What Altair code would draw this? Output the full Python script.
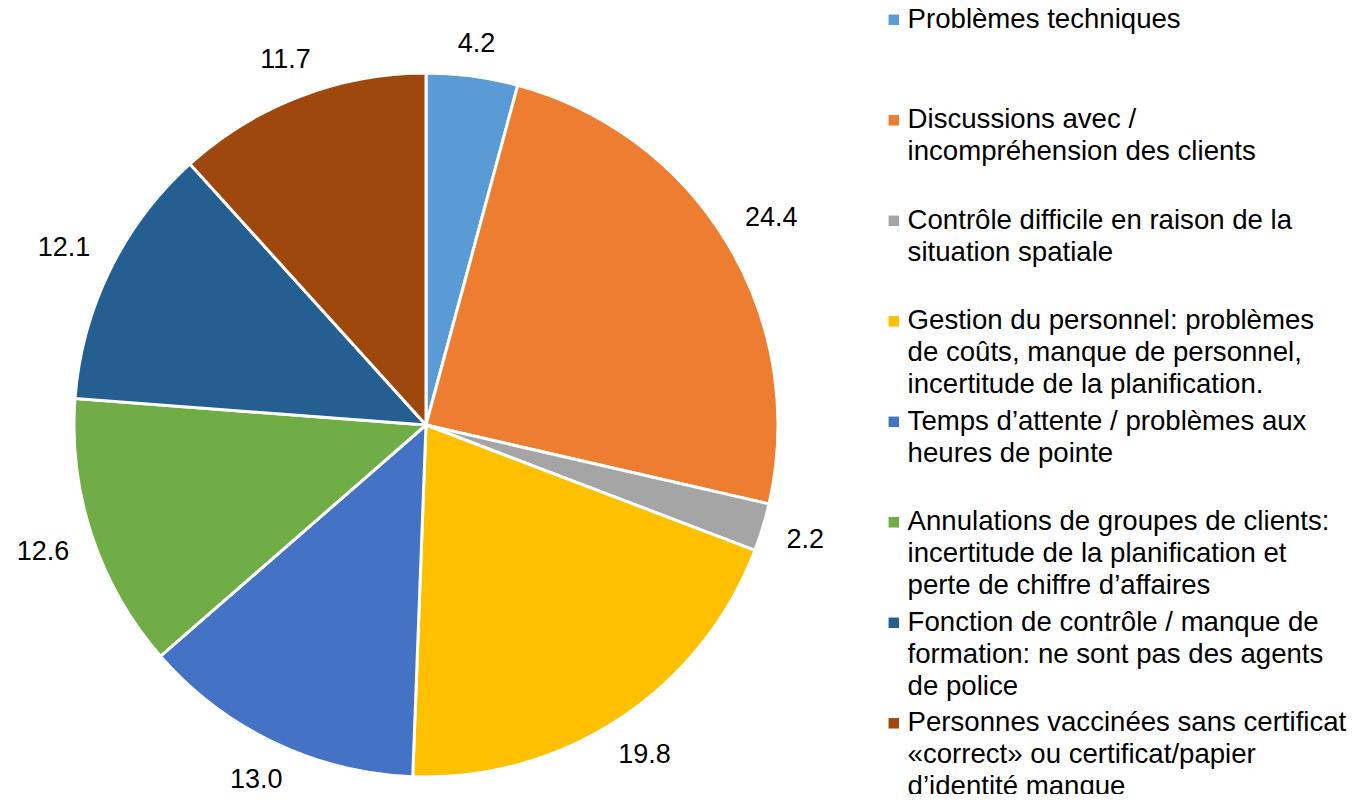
import altair as alt
import pandas as pd

# ---- data ----
category_lines = [
    ["Problèmes techniques"],
    ["Discussions avec /", "incompréhension des clients"],
    ["Contrôle difficile en raison de la", "situation spatiale"],
    ["Gestion du personnel: problèmes", "de coûts, manque de personnel,", "incertitude de la planification."],
    ["Temps d’attente / problèmes aux", "heures de pointe"],
    ["Annulations de groupes de clients:", "incertitude de la planification et", "perte de chiffre d’affaires"],
    ["Fonction de contrôle / manque de", "formation: ne sont pas des agents", "de police"],
    ["Personnes vaccinées sans certificat", "«correct» ou certificat/papier", "d’identité manque"],
]
values = [4.2, 24.4, 2.2, 19.8, 13.0, 12.6, 12.1, 11.7]
colors = ["#5B9BD5", "#ED7D31", "#A5A5A5", "#FFC000", "#4472C4", "#70AD47", "#255E91", "#9E480E"]

# every legend entry padded to three lines so that entries are evenly spaced
labels = ["|".join(lines + [""] * (3 - len(lines))) for lines in category_lines]
df = pd.DataFrame({"category": labels, "value": values, "order": list(range(len(values)))})

FONT = "Liberation Sans"
LABEL_SIZE = 27

pie = alt.Chart(df).mark_arc(outerRadius=352, stroke="white", strokeWidth=3).encode(
    theta=alt.Theta("value:Q", stack=True),
    order=alt.Order("order:Q"),
    color=alt.Color(
        "category:N",
        sort=labels,
        scale=alt.Scale(domain=labels, range=colors),
        legend=alt.Legend(
            title=None,
            orient="none",
            legendX=870.5,
            legendY=-50,
            padding=0,
            symbolType="square",
            symbolSize=110,
            symbolStrokeWidth=0,
            symbolOpacity=1,
            symbolOffset=1.5,
            labelFont=FONT,
            labelFontSize=27.6,
            labelColor="#000000",
            labelBaseline="middle",
            labelExpr="split(datum.label, '|')",
            labelLimit=480,
            labelOffset=0,
            rowPadding=7.5,
        ),
    ),
)

# data labels at the middle angle of each slice, just outside the pie:
# the label box touches a ring around the pie
text = (
    alt.Chart(df)
    .transform_joinaggregate(total="sum(value)")
    .transform_window(cum="sum(value)", sort=[alt.SortField("order")], frame=[None, 0])
    .transform_calculate(
        mid="2 * PI * (datum.cum - datum.value / 2) / datum.total",
        txt="format(datum.value, '.1f')",
    )
    .transform_calculate(
        label_r=(
            f"372 + ({LABEL_SIZE} * (0.556 * (length(datum.txt) - 1) + 0.278) / 2 + 4) * abs(sin(datum.mid))"
            " + 9 * abs(cos(datum.mid))"
        )
    )
    .mark_text(font=FONT, fontSize=LABEL_SIZE, color="#000000", align="center", baseline="middle")
    .encode(
        theta=alt.Theta("mid:Q", scale=None, stack=None),
        radius=alt.Radius("label_r:Q", scale=None, stack=None),
        text=alt.Text("txt:N"),
    )
)

chart = (
    alt.layer(pie, text)
    .resolve_scale(theta="independent")
    .properties(
        width=836,
        height=738,
        autosize=alt.AutoSizeParams(type="none"),
        padding={"left": 0, "top": 48, "right": 508, "bottom": 0},
    )
    .configure_view(stroke=None)
    .configure(style={"guide-label": {"lineHeight": 32}})
)

chart.save("out.html", embed_options={"renderer": "svg", "actions": False})
